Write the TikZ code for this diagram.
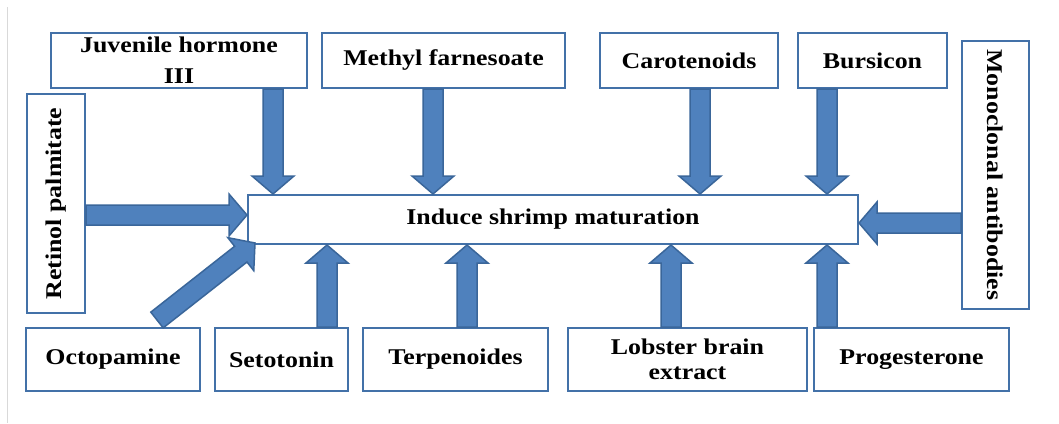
\documentclass[tikz,border=0pt]{standalone}
\usepackage{fontspec}
\setmainfont{Liberation Serif}[FakeStretch=1.15]
\usetikzlibrary{calc}
\definecolor{boxline}{HTML}{4371A8}
\definecolor{arrfill}{HTML}{4F81BD}
\definecolor{arrline}{HTML}{3A669A}
\tikzset{
  box/.style={draw=boxline, line width=2pt, fill=white, inner sep=2pt, align=center,
    font=\fontsize{22.5}{27}\selectfont\bfseries},
  barrow/.style={fill=arrfill, draw=arrline, line width=1.5pt, line join=miter},
}
\def\shw{10pt}
\def\hhw{21pt}
\def\hl{18pt}
\newcommand\blockarrow[2]{%
  \path[barrow] let \p1=(#1), \p2=(#2),
    \n1={atan2(\y2-\y1,\x2-\x1)},
    \n2={veclen(\x2-\x1,\y2-\y1)-18} in
    ($(\p1)+(\n1+90:\shw)$) -- ++(\n1:\n2) -- ++(\n1+90:\hhw-\shw) -- (\p2)
    -- ($(\p1)+(\n1:\n2)+(\n1-90:\hhw)$) -- ++(\n1+90:\hhw-\shw)
    -- ($(\p1)+(\n1-90:\shw)$) -- cycle;}
\begin{document}
\begin{tikzpicture}[x=1pt,y=-1pt]
\useasboundingbox (0,0) rectangle (1059,423);
\fill[white] (0,0) rectangle (1059,423);
\draw[black!15, line width=1pt] (7,7) -- (7,423);

% top boxes
\node[box, minimum width=256, minimum height=55] (jh) at (179,60.5) {\raisebox{2pt}{Juvenile hormone}\\[2pt]III};
\node[box, minimum width=243, minimum height=55] (mf) at (443.5,60.5) {Methyl farnesoate};
\node[box, minimum width=178, minimum height=55] (car) at (689,60.5) {Carotenoids};
\node[box, minimum width=149, minimum height=55] (bur) at (872.5,60.5) {Bursicon};
% side boxes
\node[box, rotate=90, minimum width=219, minimum height=58] (ret) at (56,203.5) {Retinol palmitate};
\node[box, rotate=-90, minimum width=268, minimum height=67] (mono) at (995.5,175) {Monoclonal antibodies};
% main box
\node[box, minimum width=610, minimum height=49] (main) at (553,219.5) {Induce shrimp maturation};
% bottom boxes
\node[box, minimum width=174, minimum height=63] (oct) at (113,359.5) {Octopamine};
\node[box, minimum width=133, minimum height=63] (set) at (281.5,359.5) {Setotonin};
\node[box, minimum width=185, minimum height=63] (terp) at (455.5,359.5) {Terpenoides};
\node[box, minimum width=239, minimum height=63] (lob) at (687.5,359.5) {Lobster brain\\[-2pt]extract};
\node[box, minimum width=195, minimum height=63] (prog) at (911.5,359.5) {Progesterone};

% arrow columns
\coordinate (xjh) at (273,0);
\coordinate (xmf) at (433,0);
\coordinate (xcar) at (700,0);
\coordinate (xbur) at (827,0);
\coordinate (xset) at (327,0);
\coordinate (xterp) at (467,0);
\coordinate (xlob) at (671,0);
\coordinate (xprog) at (827,0);
\coordinate (yret) at (0,215);
\coordinate (ymono) at (0,223);
\coordinate (octs) at (157,320);
\coordinate (octt) at (255,243);

\blockarrow{jh.south -| xjh}{main.north -| xjh}
\blockarrow{mf.south -| xmf}{main.north -| xmf}
\blockarrow{car.south -| xcar}{main.north -| xcar}
\blockarrow{bur.south -| xbur}{main.north -| xbur}
\blockarrow{set.north -| xset}{main.south -| xset}
\blockarrow{terp.north -| xterp}{main.south -| xterp}
\blockarrow{lob.north -| xlob}{main.south -| xlob}
\blockarrow{prog.north -| xprog}{main.south -| xprog}
\blockarrow{ret.south |- yret}{main.west |- yret}
\blockarrow{mono.south |- ymono}{main.east |- ymono}
\blockarrow{octs}{octt}
\end{tikzpicture}
\end{document}
